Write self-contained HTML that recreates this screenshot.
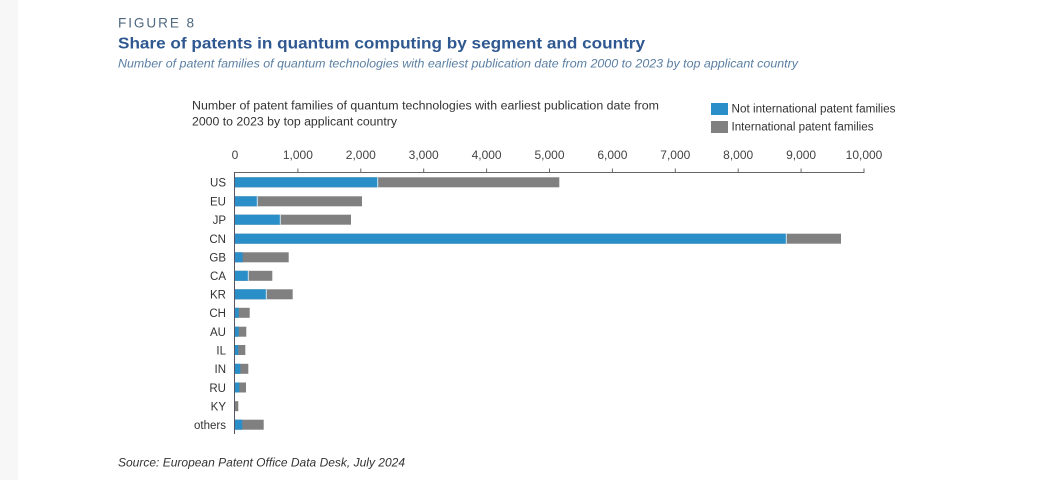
<!DOCTYPE html>
<html>
<head>
<meta charset="utf-8">
<style>
html,body{margin:0;padding:0;background:#fff;}
body{width:1055px;height:480px;overflow:hidden;}
svg{display:block;}
</style>
</head>
<body>
<svg width="1055" height="480" viewBox="0 0 1055 480" xmlns="http://www.w3.org/2000/svg">
  <rect x="0" y="0" width="1055" height="480" fill="#ffffff"/>
  <rect x="0" y="0" width="18" height="480" fill="#f7f7f7"/>

  <!-- Header -->
  <text x="118" y="27.3" font-family="Liberation Sans, sans-serif" font-size="14" fill="#50697f" textLength="78" lengthAdjust="spacingAndGlyphs" letter-spacing="2">FIGURE 8</text>
  <text x="118" y="48.5" font-family="Liberation Sans, sans-serif" font-size="16" font-weight="bold" fill="#2f5891" textLength="527" lengthAdjust="spacingAndGlyphs">Share of patents in quantum computing by segment and country</text>
  <text x="118" y="67.7" font-family="Liberation Sans, sans-serif" font-size="11.5" font-style="italic" fill="#5a7fa3" textLength="680" lengthAdjust="spacingAndGlyphs">Number of patent families of quantum technologies with earliest publication date from 2000 to 2023 by top applicant country</text>

  <!-- Chart heading -->
  <text x="192" y="109.5" font-family="Liberation Sans, sans-serif" font-size="11.5" fill="#333" textLength="467" lengthAdjust="spacingAndGlyphs">Number of patent families of quantum technologies with earliest publication date from</text>
  <text x="192" y="125.5" font-family="Liberation Sans, sans-serif" font-size="11.5" fill="#333" textLength="205" lengthAdjust="spacingAndGlyphs">2000 to 2023 by top applicant country</text>

  <!-- Legend -->
  <rect x="711" y="103" width="17" height="12" fill="#2a8fc9"/>
  <rect x="711" y="121" width="17" height="12" fill="#808080"/>
  <text x="731.5" y="112.7" font-family="Liberation Sans, sans-serif" font-size="11.5" fill="#333" textLength="164" lengthAdjust="spacingAndGlyphs">Not international patent families</text>
  <text x="731.5" y="130.5" font-family="Liberation Sans, sans-serif" font-size="11.5" fill="#333" textLength="142" lengthAdjust="spacingAndGlyphs">International patent families</text>

  <!-- Axis tick labels -->
  <g font-family="Liberation Sans, sans-serif" font-size="12" fill="#444" text-anchor="middle">
    <text x="235" y="159">0</text>
    <text x="297.9" y="159">1,000</text>
    <text x="360.8" y="159">2,000</text>
    <text x="423.7" y="159">3,000</text>
    <text x="486.6" y="159">4,000</text>
    <text x="549.5" y="159">5,000</text>
    <text x="612.4" y="159">6,000</text>
    <text x="675.3" y="159">7,000</text>
    <text x="738.2" y="159">8,000</text>
    <text x="801.1" y="159">9,000</text>
    <text x="864" y="159">10,000</text>
  </g>

  <!-- Axis line & ticks -->
  <g stroke="#666" stroke-width="1" fill="none">
    <line x1="234" y1="172.5" x2="864.5" y2="172.5"/>
    <line x1="297.9" y1="168.5" x2="297.9" y2="172.5"/>
    <line x1="360.8" y1="168.5" x2="360.8" y2="172.5"/>
    <line x1="423.7" y1="168.5" x2="423.7" y2="172.5"/>
    <line x1="486.6" y1="168.5" x2="486.6" y2="172.5"/>
    <line x1="549.5" y1="168.5" x2="549.5" y2="172.5"/>
    <line x1="612.4" y1="168.5" x2="612.4" y2="172.5"/>
    <line x1="675.3" y1="168.5" x2="675.3" y2="172.5"/>
    <line x1="738.2" y1="168.5" x2="738.2" y2="172.5"/>
    <line x1="801.1" y1="168.5" x2="801.1" y2="172.5"/>
    <line x1="864" y1="168.5" x2="864" y2="172.5"/>
  </g>

  <!-- Bars: gray first (full), blue over -->
  <g>
    <!-- US -->
    <rect x="235" y="177.3" width="324.3" height="10" fill="#808080"/>
    <rect x="235" y="177.3" width="142.7" height="10" fill="#2a8fc9"/>
    <!-- EU -->
    <rect x="235" y="196.3" width="127" height="10" fill="#808080"/>
    <rect x="235" y="196.3" width="22.3" height="10" fill="#2a8fc9"/>
    <!-- JP -->
    <rect x="235" y="214.7" width="116" height="10" fill="#808080"/>
    <rect x="235" y="214.7" width="45.3" height="10" fill="#2a8fc9"/>
    <!-- CN -->
    <rect x="235" y="233.7" width="606" height="10" fill="#808080"/>
    <rect x="235" y="233.7" width="551.3" height="10" fill="#2a8fc9"/>
    <!-- GB -->
    <rect x="235" y="252.3" width="53.7" height="10" fill="#808080"/>
    <rect x="235" y="252.3" width="7.7" height="10" fill="#2a8fc9"/>
    <!-- CA -->
    <rect x="235" y="270.8" width="37.3" height="10" fill="#808080"/>
    <rect x="235" y="270.8" width="13.3" height="10" fill="#2a8fc9"/>
    <!-- KR -->
    <rect x="235" y="289.3" width="57.7" height="10" fill="#808080"/>
    <rect x="235" y="289.3" width="31.3" height="10" fill="#2a8fc9"/>
    <!-- CH -->
    <rect x="235" y="307.8" width="14.7" height="10" fill="#808080"/>
    <rect x="235" y="307.8" width="3.7" height="10" fill="#2a8fc9"/>
    <!-- AU -->
    <rect x="235" y="326.7" width="11.3" height="10" fill="#808080"/>
    <rect x="235" y="326.7" width="3.7" height="10" fill="#2a8fc9"/>
    <!-- IL -->
    <rect x="235" y="345" width="10.3" height="10" fill="#808080"/>
    <rect x="235" y="345" width="3.3" height="10" fill="#2a8fc9"/>
    <!-- IN -->
    <rect x="235" y="363.8" width="13.3" height="10" fill="#808080"/>
    <rect x="235" y="363.8" width="5.3" height="10" fill="#2a8fc9"/>
    <!-- RU -->
    <rect x="235" y="382.5" width="11" height="10" fill="#808080"/>
    <rect x="235" y="382.5" width="4.3" height="10" fill="#2a8fc9"/>
    <!-- KY -->
    <rect x="235" y="401.2" width="3.3" height="10" fill="#808080"/>
    <!-- others -->
    <rect x="235" y="419.7" width="28.7" height="10" fill="#808080"/>
    <rect x="235" y="419.7" width="7.3" height="10" fill="#2a8fc9"/>
  </g>
  <!-- light separators between segments -->
  <g stroke="#cfe9f7" stroke-width="1">
    <line x1="377.7" y1="177.3" x2="377.7" y2="187.3"/>
    <line x1="257.3" y1="196.3" x2="257.3" y2="206.3"/>
    <line x1="280.3" y1="214.7" x2="280.3" y2="224.7"/>
    <line x1="786.3" y1="233.7" x2="786.3" y2="243.7"/>
    <line x1="266.3" y1="289.3" x2="266.3" y2="299.3"/>
    <line x1="248.3" y1="270.8" x2="248.3" y2="280.8"/>
  </g>

  <!-- vertical axis -->
  <line x1="234.5" y1="172" x2="234.5" y2="434" stroke="#556" stroke-width="1"/>

  <!-- Category labels -->
  <g font-family="Liberation Sans, sans-serif" font-size="11.5" fill="#333" text-anchor="end">
    <text x="226" y="186.5">US</text>
    <text x="226" y="205.5">EU</text>
    <text x="226" y="224">JP</text>
    <text x="226" y="243">CN</text>
    <text x="226" y="261.5">GB</text>
    <text x="226" y="280">CA</text>
    <text x="226" y="298.5">KR</text>
    <text x="226" y="317">CH</text>
    <text x="226" y="336">AU</text>
    <text x="226" y="354.3">IL</text>
    <text x="226" y="373">IN</text>
    <text x="226" y="391.8">RU</text>
    <text x="226" y="410.5">KY</text>
    <text x="226" y="429">others</text>
  </g>

  <!-- Source -->
  <text x="118" y="466.3" font-family="Liberation Sans, sans-serif" font-size="12" font-style="italic" fill="#333" textLength="287" lengthAdjust="spacingAndGlyphs">Source: European Patent Office Data Desk, July 2024</text>
</svg>
</body>
</html>
